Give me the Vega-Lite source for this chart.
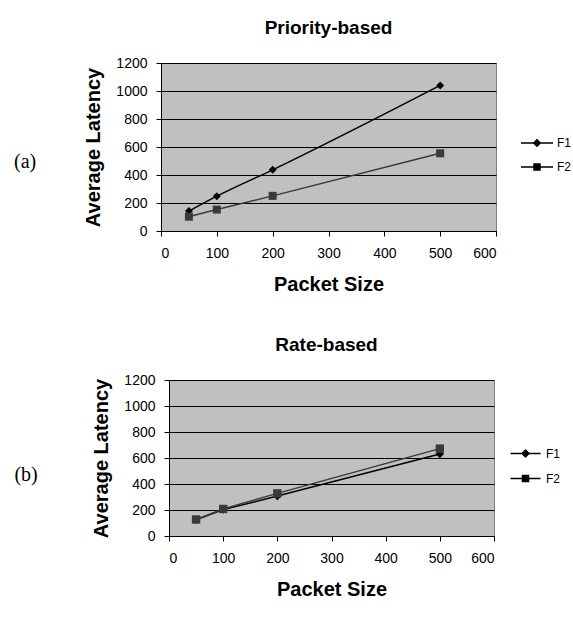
{
  "$schema": "https://vega.github.io/schema/vega-lite/v6.json",
  "padding": {"left": 14, "top": 18, "right": 0, "bottom": 0},
  "background": "white",
  "datasets": {
    "a": [
      {"flow": "F1", "size": 50, "latency": 142},
      {"flow": "F1", "size": 100, "latency": 249},
      {"flow": "F1", "size": 200, "latency": 437},
      {"flow": "F1", "size": 500, "latency": 1040},
      {"flow": "F2", "size": 50, "latency": 102},
      {"flow": "F2", "size": 100, "latency": 153},
      {"flow": "F2", "size": 200, "latency": 251},
      {"flow": "F2", "size": 500, "latency": 555}
    ],
    "b": [
      {"flow": "F1", "size": 50, "latency": 125},
      {"flow": "F1", "size": 100, "latency": 203},
      {"flow": "F1", "size": 200, "latency": 307},
      {"flow": "F1", "size": 500, "latency": 630},
      {"flow": "F2", "size": 50, "latency": 127},
      {"flow": "F2", "size": 100, "latency": 208},
      {"flow": "F2", "size": 200, "latency": 328},
      {"flow": "F2", "size": 500, "latency": 672}
    ]
  },
  "config": {
    "font": "Liberation Sans",
    "view": {"fill": "#C0C0C0", "stroke": "#808080", "strokeWidth": 1},
    "axis": {
      "domainColor": "#000000",
      "tickColor": "#000000",
      "gridColor": "#000000",
      "gridOpacity": 1,
      "labelFont": "Liberation Sans",
      "labelFontSize": 14,
      "labelColor": "#000000",
      "titleFont": "Liberation Sans",
      "titleFontSize": 20,
      "titleFontWeight": "bold",
      "titleColor": "#000000",
      "tickSize": 5,
      "format": "d"
    },
    "axisX": {"labelPadding": 10, "titlePadding": 14},
    "axisY": {"labelPadding": 9, "titlePadding": 12},
    "legend": {"labelFont": "Liberation Sans", "labelFontSize": 12, "labelColor": "#000000", "padding": 0},
    "title": {"font": "Liberation Sans", "fontSize": 19, "fontWeight": "bold", "color": "#000000"}
  },
  "spacing": 40,
  "vconcat": [
    {
      "title": {"text": "(a)", "orient": "left", "angle": 0, "font": "Liberation Serif", "fontSize": 20, "fontWeight": "normal", "anchor": "middle", "offset": 36, "dy": -5},
      "hconcat": [
        {
          "width": 335,
          "height": 168,
          "title": {"text": "Priority-based", "offset": 18},
          "data": {"name": "a"},
          "encoding": {
            "x": {"field": "size", "type": "quantitative", "scale": {"domain": [0, 600], "nice": false},
              "axis": {"values": [0, 100, 200, 300, 400, 500, 600], "title": "Packet Size", "grid": false}},
            "y": {"field": "latency", "type": "quantitative", "scale": {"domain": [0, 1200], "nice": false},
              "axis": {"values": [0, 200, 400, 600, 800, 1000, 1200], "title": "Average Latency", "grid": true}}
          },
          "layer": [
            {"mark": {"type": "line", "interpolate": "monotone", "strokeWidth": 1.5},
              "encoding": {"color": {"field": "flow", "type": "nominal", "scale": {"domain": ["F1", "F2"], "range": ["#000000", "#3a3a3a"]}, "legend": null}}},
            {"mark": {"type": "point", "filled": true, "opacity": 1, "size": 64},
              "encoding": {
                "color": {"field": "flow", "type": "nominal", "scale": {"domain": ["F1", "F2"], "range": ["#000000", "#3a3a3a"]}, "legend": null},
                "shape": {"field": "flow", "type": "nominal", "scale": {"domain": ["F1", "F2"], "range": ["diamond", "square"]}, "legend": null}}},
            {"transform": [{"filter": "datum.size < 0"}],
              "mark": {"type": "point", "filled": true, "opacity": 1, "color": "#000000", "stroke": "#000000", "strokeWidth": 1.5},
              "encoding": {
                "shape": {"field": "flow", "type": "nominal",
                  "scale": {"domain": ["F1", "F2"], "range": ["M-2,0H2M0,-0.4L0.4,0L0,0.4L-0.4,0Z", "M-2,0H2M-0.375,-0.375H0.375V0.375H-0.375Z"]},
                  "legend": {"title": null, "orient": "none", "legendX": 367, "legendY": 71, "rowPadding": 8, "labelOffset": 11, "symbolSize": 256}}}}
          ],
          "resolve": {"scale": {"shape": "independent"}, "legend": {"shape": "independent"}}
        }
      ]
    },
    {
      "title": {"text": "(b)", "orient": "left", "angle": 0, "font": "Liberation Serif", "fontSize": 20, "fontWeight": "normal", "anchor": "middle", "offset": 42, "dy": -3},
      "bounds": "flush",
      "spacing": 0,
      "hconcat": [
        {
          "width": 8,
          "height": 156,
          "data": {"values": []},
          "mark": {"type": "point", "opacity": 0},
          "view": {"fill": "transparent", "stroke": "transparent"}
        },
        {
          "width": 325,
          "height": 156,
          "title": {"text": "Rate-based", "offset": 18, "dx": -5},
          "data": {"name": "b"},
          "encoding": {
            "x": {"field": "size", "type": "quantitative", "scale": {"domain": [0, 600], "nice": false},
              "axis": {"values": [0, 100, 200, 300, 400, 500, 600], "title": "Packet Size", "grid": false}},
            "y": {"field": "latency", "type": "quantitative", "scale": {"domain": [0, 1200], "nice": false},
              "axis": {"values": [0, 200, 400, 600, 800, 1000, 1200], "title": "Average Latency", "grid": true}}
          },
          "layer": [
            {"mark": {"type": "line", "strokeWidth": 1.5},
              "encoding": {"color": {"field": "flow", "type": "nominal", "scale": {"domain": ["F1", "F2"], "range": ["#000000", "#3a3a3a"]}, "legend": null}}},
            {"mark": {"type": "point", "filled": true, "opacity": 1, "size": 70},
              "encoding": {
                "color": {"field": "flow", "type": "nominal", "scale": {"domain": ["F1", "F2"], "range": ["#000000", "#3a3a3a"]}, "legend": null},
                "shape": {"field": "flow", "type": "nominal", "scale": {"domain": ["F1", "F2"], "range": ["diamond", "square"]}, "legend": null}}},
            {"transform": [{"filter": "datum.size < 0"}],
              "mark": {"type": "point", "filled": true, "opacity": 1, "color": "#000000", "stroke": "#000000", "strokeWidth": 1.5},
              "encoding": {
                "shape": {"field": "flow", "type": "nominal",
                  "scale": {"domain": ["F1", "F2"], "range": ["M-2,0H2M0,-0.45L0.45,0L0,0.45L-0.45,0Z", "M-2,0H2M-0.4,-0.4H0.4V0.4H-0.4Z"]},
                  "legend": {"title": null, "orient": "none", "legendX": 348, "legendY": 65, "rowPadding": 10, "labelOffset": 12, "symbolSize": 225}}}}
          ],
          "resolve": {"scale": {"shape": "independent"}, "legend": {"shape": "independent"}}
        }
      ]
    }
  ]
}
